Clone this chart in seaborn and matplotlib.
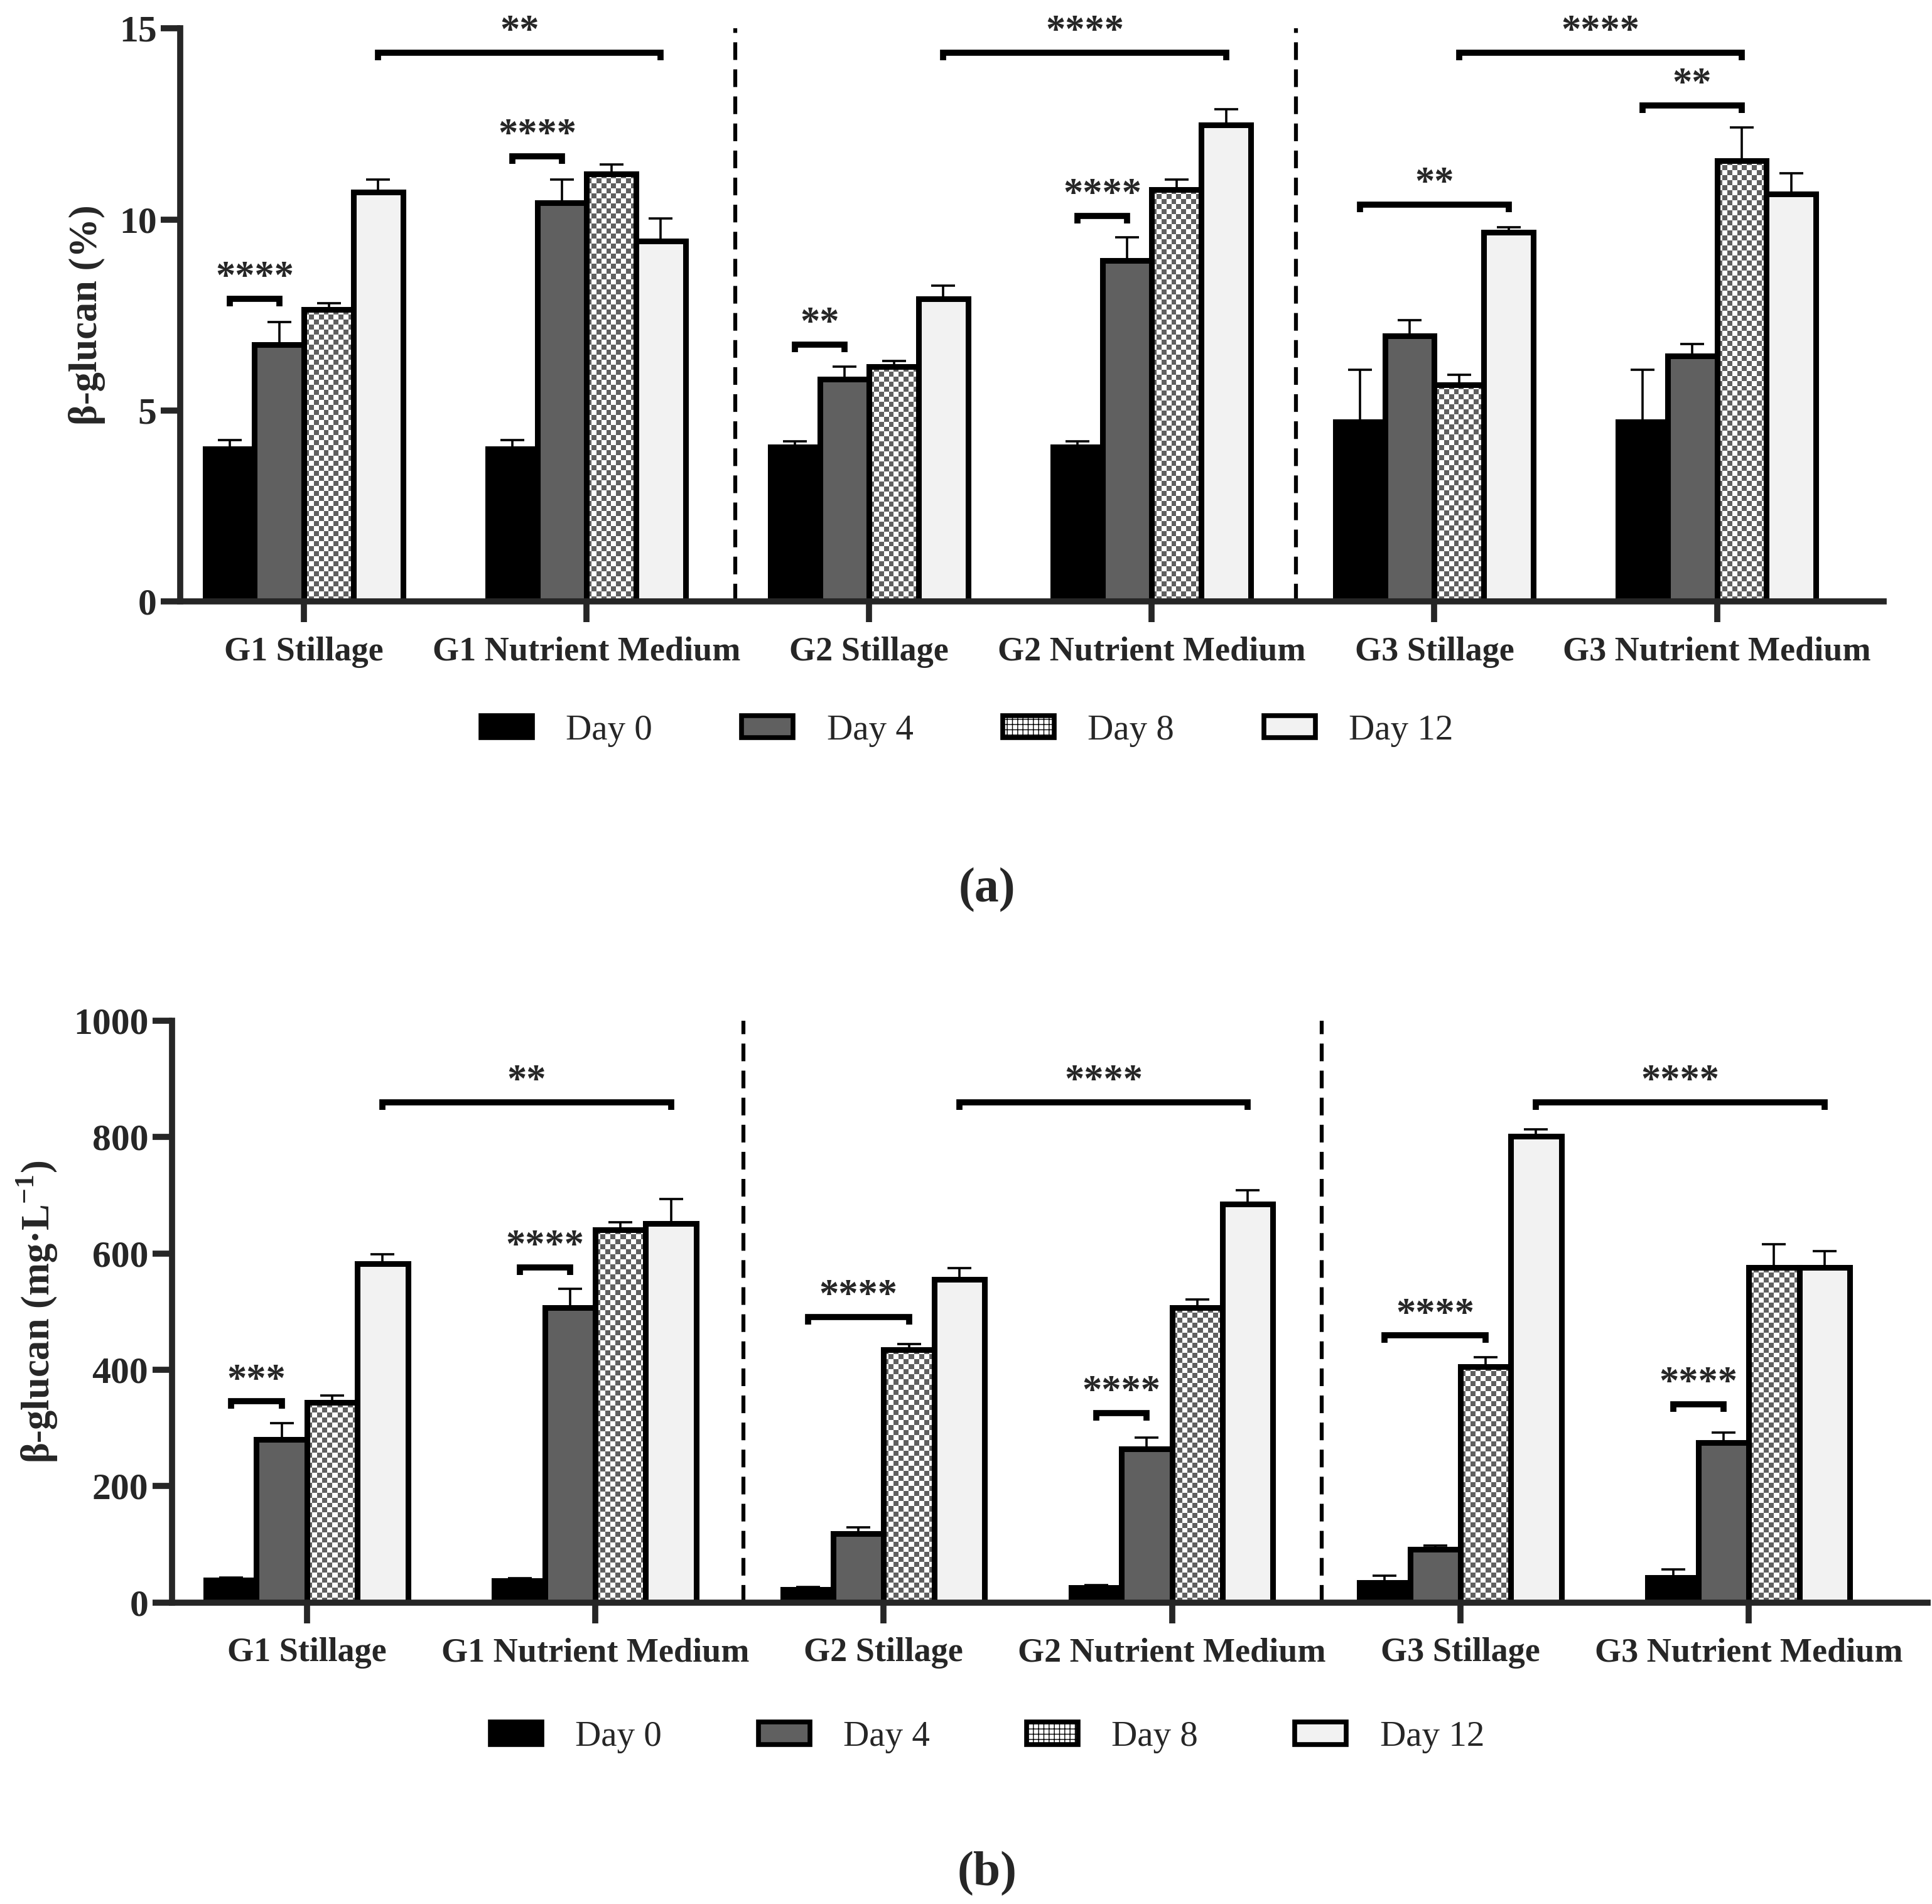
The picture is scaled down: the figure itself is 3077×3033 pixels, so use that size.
import numpy as np
import pandas as pd
import matplotlib
matplotlib.use("Agg")
import matplotlib.pyplot as plt
from matplotlib.colors import ListedColormap
from matplotlib.patches import Patch
import seaborn as sns

# categories
groups = ["G1 Stillage", "G1 Nutrient Medium", "G2 Stillage",
          "G2 Nutrient Medium", "G3 Stillage", "G3 Nutrient Medium"]
days = ["Day 0", "Day 4", "Day 8", "Day 12"]

# (a) beta-glucan content, %
pct_day0 = [3.99, 3.99, 4.04, 4.04, 4.70, 4.70]
pct_day4 = [6.72, 10.44, 5.82, 8.92, 6.95, 6.42]
pct_day8 = [7.64, 11.19, 6.14, 10.78, 5.67, 11.54]
pct_day12 = [10.72, 9.44, 7.92, 12.47, 9.67, 10.67]
pct_sd0 = [0.23, 0.23, 0.16, 0.16, 1.37, 1.37]
pct_sd4 = [0.60, 0.60, 0.32, 0.61, 0.42, 0.32]
pct_sd8 = [0.17, 0.25, 0.16, 0.26, 0.26, 0.86]
pct_sd12 = [0.32, 0.58, 0.34, 0.42, 0.13, 0.54]

# (b) beta-glucan concentration, mg/L
mgl_day0 = [39, 38, 23, 26, 34, 43]
mgl_day4 = [280, 507, 119, 264, 92, 275]
mgl_day8 = [344, 641, 435, 507, 406, 576]
mgl_day12 = [582, 652, 555, 685, 802, 576]
mgl_sd0 = [4, 4, 4, 4, 12, 14]
mgl_sd4 = [28, 32, 10, 20, 6, 17]
mgl_sd8 = [12, 13, 9, 14, 16, 40]
mgl_sd12 = [17, 42, 20, 24, 11, 28]

# significance brackets: (group a, day a, group b, day b, height, stars)
pct_sig = [(0, 0, 0, 1, 7.92, "****"), (0, 3, 1, 3, 14.36, "**"),
           (1, 0, 1, 1, 11.65, "****"), (2, 0, 2, 1, 6.72, "**"),
           (2, 3, 3, 3, 14.36, "****"), (3, 0, 3, 1, 10.09, "****"),
           (4, 0, 4, 3, 10.39, "**"), (4, 2, 5, 2, 14.36, "****"),
           (5, 0, 5, 2, 12.99, "**")]
mgl_sig = [(0, 0, 0, 1, 346, "***"), (0, 3, 1, 3, 860, "**"),
           (1, 0, 1, 1, 576, "****"), (2, 0, 2, 2, 491, "****"),
           (2, 3, 3, 3, 860, "****"), (3, 0, 3, 1, 326, "****"),
           (4, 0, 4, 2, 459, "****"), (4, 3, 5, 3, 860, "****"),
           (5, 0, 5, 1, 341, "****")]

colors = ["#000000", "#606060", "#ffffff", "#f2f2f2"]

sns.set_theme(style="ticks")
plt.rcParams["font.family"] = ["Liberation Serif", "DejaVu Serif"]
plt.rcParams["mathtext.fontset"] = "custom"
plt.rcParams["mathtext.rm"] = "Liberation Serif:bold"
plt.rcParams["mathtext.bf"] = "Liberation Serif:bold"
plt.rcParams["hatch.linewidth"] = 1.0


def long_table(vals, sds):
    rows = []
    for d, v, s in zip(days, vals, sds):
        for g, vi, si in zip(groups, v, s):
            rows.append({"group": g, "day": d, "value": vi, "sd": si})
    return pd.DataFrame(rows)


def checker(ax, bar, cell=8):
    x0, w, h = bar.get_x(), bar.get_width(), bar.get_height()
    p0 = ax.transData.transform((x0, 0))
    p1 = ax.transData.transform((x0 + w, h))
    ncol = max(1, int(round(abs(p1[0] - p0[0]) / cell)))
    nrow = max(1, int(round(abs(p1[1] - p0[1]) / cell)))
    board = np.indices((nrow, ncol)).sum(axis=0) % 2
    ax.imshow(board, cmap=ListedColormap(["#ffffff", "#606060"]),
              extent=[x0, x0 + w, 0, h], origin="lower", aspect="auto",
              interpolation="nearest", zorder=0.9)
    bar.set_facecolor("none")


def panel(ax, df, xlim, ylim, yticks, ylabel, sig, dashes, tick_h):
    sns.barplot(data=df, x="group", y="value", hue="day", palette=colors,
                width=0.7, errorbar=None, saturation=1, edgecolor="black",
                linewidth=6.5, legend=False, ax=ax)
    ax.set_xlim(*xlim)
    ax.set_ylim(*ylim)

    bar_sets = list(ax.containers)
    centers = []
    for k, cont in enumerate(bar_sets):
        xs = np.array([b.get_x() + b.get_width() / 2 for b in cont])
        centers.append(xs)
        sub = df[df.day == days[k]]
        ax.errorbar(xs, sub["value"], yerr=[np.zeros(len(sub)), sub["sd"]],
                    fmt="none", ecolor="black", elinewidth=2.6, capsize=14,
                    capthick=2.6, zorder=3)
        if days[k] == "Day 8":
            for b in cont:
                checker(ax, b)
    ax.set_xlim(*xlim)
    ax.set_ylim(*ylim)

    for xd in dashes:
        ax.axvline(xd, color="black", lw=4.5, ls=(0, (4.5, 2.4)), zorder=1)

    for ga, da, gb, db, y, txt in sig:
        x1, x2 = centers[da][ga], centers[db][gb]
        ax.plot([x1, x1, x2, x2], [y - tick_h, y, y, y - tick_h],
                color="black", lw=7, solid_capstyle="butt",
                solid_joinstyle="miter", zorder=4)
        ax.annotate(txt, xy=((x1 + x2) / 2, y), xytext=(0, 12),
                    textcoords="offset points", ha="center", va="baseline",
                    fontsize=45, fontweight="bold")

    sns.despine(ax=ax)
    for s in ["left", "bottom"]:
        ax.spines[s].set_linewidth(7)
    ax.set_yticks(yticks)
    ax.tick_params(axis="y", length=22, width=7, pad=5, labelsize=43)
    ax.tick_params(axis="x", length=24, width=7, pad=16, labelsize=39)
    for t in ax.get_xticklabels() + ax.get_yticklabels():
        t.set_fontweight("bold")
    ax.set_xlabel("")
    ax.set_ylabel(ylabel, fontsize=45, fontweight="bold", labelpad=16)


def legend(fig, y, x, spacing):
    handles = [Patch(facecolor=colors[0], edgecolor="black", lw=5.5),
               Patch(facecolor=colors[1], edgecolor="black", lw=5.5),
               Patch(facecolor="white", edgecolor="black", lw=5.5, hatch="++"),
               Patch(facecolor=colors[3], edgecolor="black", lw=5.5)]
    fig.legend(handles, days, loc="center", bbox_to_anchor=(x, y), ncol=4,
               frameon=False, fontsize=41, handlelength=1.44,
               handleheight=0.58, handletextpad=0.94, columnspacing=spacing)


fig = plt.figure(figsize=(30.77, 30.33), dpi=100)
ax1 = fig.add_axes([0.0933, 0.6841, 0.8817, 0.3010])
ax2 = fig.add_axes([0.0890, 0.1583, 0.9087, 0.3056])

pct = long_table([pct_day0, pct_day4, pct_day8, pct_day12],
                 [pct_sd0, pct_sd4, pct_sd8, pct_sd12])
mgl = long_table([mgl_day0, mgl_day4, mgl_day8, mgl_day12],
                 [mgl_sd0, mgl_sd4, mgl_sd8, mgl_sd12])

panel(ax1, pct, (-0.438, 5.59), (0, 15), [0, 5, 10, 15],
      "β-glucan (%)", pct_sig, [1.527, 3.51], 0.2)
panel(ax2, mgl, (-0.468, 5.62), (0, 1000), [0, 200, 400, 600, 800, 1000],
      r"β-glucan (mg·L$^{\mathbf{-1}}$)", mgl_sig, [1.514, 3.52], 13)

legend(fig, 0.6163, 0.5005, 2.5)
legend(fig, 0.0877, 0.511, 2.7)

fig.text(0.511, 0.5325, "(a)", ha="center", va="center", fontsize=56,
         fontweight="bold")
fig.text(0.511, 0.016, "(b)", ha="center", va="center", fontsize=56,
         fontweight="bold")

fig.savefig("out.png", dpi=100, facecolor="white")
